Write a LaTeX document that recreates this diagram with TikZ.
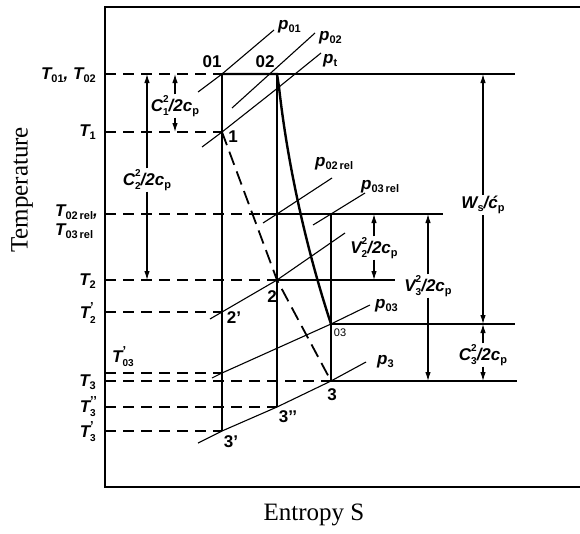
\documentclass[tikz,border=0pt]{standalone}
\usepackage{fontspec}
\setmainfont{Liberation Serif}
\newfontfamily\labfont{Liberation Sans}
\usetikzlibrary{arrows.meta}

\newcommand{\sub}[1]{\raisebox{-0.35ex}{\fontsize{11}{11}\selectfont\upshape #1}}
\newcommand{\subsup}[2]{\rlap{\raisebox{0.95ex}{\fontsize{10}{10}\selectfont\upshape #2}}\raisebox{-0.45ex}{\fontsize{10}{10}\selectfont\upshape #1}}
\newcommand{\subpr}[2]{\rlap{\raisebox{0.78ex}{\fontsize{13}{13}\selectfont\upshape #2}}\raisebox{-0.45ex}{\fontsize{10}{10}\selectfont\upshape #1}}

\tikzset{
  lab/.style={font=\labfont\fontsize{17}{19}\selectfont\bfseries\itshape, inner sep=1pt},
  ptlab/.style={font=\labfont\fontsize{17}{19}\selectfont\bfseries, inner sep=1pt},
  axlab/.style={font=\fontsize{25}{28}\selectfont},
  frame/.style={line width=1.6pt},
  thin/.style={line width=1.1pt},
  level/.style={line width=1.1pt, dash pattern=on 11pt off 7pt},
  proc/.style={line width=2.4pt},
  ideal/.style={line width=1.8pt, dash pattern=on 14pt off 7pt},
  dim/.style={line width=1.1pt, -{Latex[length=9pt,width=5.5pt]}}
}

\begin{document}
\begin{tikzpicture}[x=1pt, y=-1pt]
    \useasboundingbox (0,0) rectangle (580,533);

    % Frame and axis titles
    \draw[frame] (580,7) -| (105,487) -- (580,487);
    \node[axlab, rotate=90] (ylab) at (22,190) {Temperature};
    \node[axlab] (xlab) at (314,515) {Entropy S};

    % State points
    \coordinate (s01) at (222,74);
    \coordinate (s02) at (277,74);
    \coordinate (s1) at (222,132);
    \coordinate (st) at (279,87);
    \coordinate (r2) at (277,214);
    \coordinate (r3) at (331,214);
    \coordinate (s2) at (277,280);
    \coordinate (s2p) at (222,312);
    \coordinate (s03) at (331,324);
    \coordinate (s03p) at (222,373);
    \coordinate (s3) at (331,381);
    \coordinate (s3pp) at (277,407);
    \coordinate (s3p) at (222,431);

    % Level ends
    \coordinate (a01) at (105,74);
    \coordinate (a1) at (105,132);
    \coordinate (arel) at (105,214);
    \coordinate (mrel) at (262,214);
    \coordinate (erel) at (443,214);
    \coordinate (a2) at (105,280);
    \coordinate (e2) at (395,280);
    \coordinate (a2p) at (105,312);
    \coordinate (a03p) at (105,373);
    \coordinate (a3) at (105,381);
    \coordinate (a3pp) at (105,407);
    \coordinate (a3p) at (105,431);
    \coordinate (e01) at (515,74);
    \coordinate (e03) at (515,324);
    \coordinate (e3) at (517,381);

    % Temperature levels
    \draw[level] (a01) -- (s01);
    \draw[thin] (s02) -- (e01);
    \draw[level] (a1) -- (s1);
    \draw[level] (arel) -- (mrel);
    \draw[thin] (mrel) -- (erel);
    \draw[level] (a2) -- (s2);
    \draw[thin] (s2) -- (e2);
    \draw[level] (a2p) -- (s2p);
    \draw[level] (a03p) -- (s03p);
    \draw[thin] (s03) -- (e03);
    \draw[level] (a3) -- (s3);
    \draw[thin] (s3) -- (e3);
    \draw[level] (a3pp) -- (s3pp);
    \draw[level] (a3p) -- (s3p);

    % Verticals
    \draw[thin] (s01) -- (s3p);
    \draw[thin] (s02) -- (s3pp);
    \draw[thin] (r3) -- (s3);

    % Isobars
    \coordinate (p01a) at (198,92);   \coordinate (p01b) at (274,30);
    \coordinate (p02a) at (232,108);  \coordinate (p02b) at (315,33);
    \coordinate (pta) at (202,147);   \coordinate (ptb) at (321,53);
    \coordinate (prl2a) at (263,223); \coordinate (prl2b) at (332,178);
    \coordinate (prl3a) at (313,225); \coordinate (prl3b) at (365,193);
    \coordinate (p2a) at (210,319);   \coordinate (p2b) at (345,233);
    \coordinate (p03a) at (212,378);  \coordinate (p03b) at (370,305);
    \coordinate (p3a) at (198,443);   \coordinate (p3b) at (366,362);
    \draw[thin] (p01a) -- (s01) -- (p01b);
    \draw[thin] (p02a) -- (p02b);
    \draw[thin] (pta) -- (s1) -- (st) -- (ptb);
    \draw[thin] (prl2a) -- (r2) -- (prl2b);
    \draw[thin] (prl3a) -- (r3) -- (prl3b);
    \draw[thin] (p2a) -- (s2p) -- (s2) -- (p2b);
    \draw[thin] (p03a) -- (s03p) -- (s03) -- (p03b);
    \draw[thin] (p3a) -- (s3p) -- (s3pp) -- (s3) -- (p3b);
    \node[lab, anchor=west] (lp01) at (277,27) {p\sub{01}};
    \node[lab, anchor=west] (lp02) at (318,38) {p\sub{02}};
    \node[lab, anchor=west] (lpt) at (322,61) {p\sub{t}};
    \node[lab, anchor=west] (lprl2) at (314,164) {p\sub{02\,rel}};
    \node[lab, anchor=west] (lprl3) at (360,187) {p\sub{03\,rel}};
    \node[lab, anchor=west] (lp03) at (374,306) {p\sub{03}};
    \node[lab, anchor=west] (lp3) at (376,362) {p\sub{3}};

    % Processes
    \draw[proc] (s01) -- (s02) -- (st) .. controls (287,160) and (305,245) .. (s03);
    \draw[ideal] (s1) -- (s2) -- (s3);

    % Temperature labels
    \node[lab, anchor=east] (t01) at (97,75) {T\sub{01}, T\sub{02}};
    \node[lab, anchor=east] (t1) at (97,132) {T\sub{1}};
    \node[lab, anchor=east, align=left] (trel) at (99,222) {T\sub{02\,rel},\\T\sub{03\,rel}};
    \node[lab, anchor=east] (t2) at (97,281) {T\sub{2}};
    \node[lab, anchor=east] (t2p) at (97,313) {T\subpr{2}{’}};
    \node[lab] (t03p) at (123,357) {T\subpr{03}{’}};
    \node[lab, anchor=east] (t3) at (97,382) {T\sub{3}};
    \node[lab, anchor=east] (t3pp) at (97,407) {T\subpr{3}{’’}};
    \node[lab, anchor=east] (t3p) at (97,432) {T\subpr{3}{’}};

    % Point labels
    \node[ptlab] (l01) at (212,62) {01};
    \node[ptlab] (l02) at (265,62) {02};
    \node[ptlab] (l1) at (233,137) {1};
    \node[ptlab] (l2) at (272,297) {2};
    \node[ptlab] (l2p) at (234,318) {2’};
    \node[ptlab, font=\labfont\fontsize{11}{11}\selectfont] (l03) at (340,333) {03};
    \node[ptlab] (l3) at (332,395) {3};
    \node[ptlab] (l3pp) at (288,417) {3’’};
    \node[ptlab] (l3p) at (231,442) {3’};

    % Energy differences
    \node[lab] (c1) at (175,106) {C\subsup{1}{2}/2c\sub{p}};
    \node[lab] (c2) at (147,180) {C\subsup{2}{2}/2c\sub{p}};
    \node[lab] (v2) at (374,248) {V\subsup{2}{2}/2c\sub{p}};
    \node[lab] (v3) at (428,286) {V\subsup{3}{2}/2c\sub{p}};
    \node[lab] (w) at (483,205) {W\sub{s}/\'c\sub{p}};
    \node[lab] (c3) at (483,355) {C\subsup{3}{2}/2c\sub{p}};
    \draw[dim] (c1) -- (c1 |- s01);
    \draw[dim] (c1) -- (c1 |- s1);
    \draw[dim] (c2) -- (c2 |- s01);
    \draw[dim] (c2) -- (c2 |- s2);
    \draw[dim] (v2) -- (v2 |- r2);
    \draw[dim] (v2) -- (v2 |- s2);
    \draw[dim] (v3) -- (v3 |- r2);
    \draw[dim] (v3) -- (v3 |- s3);
    \draw[dim] (w) -- (w |- s01);
    \draw[dim] (w) -- (w |- s03);
    \draw[dim] (c3) -- (c3 |- s03);
    \draw[dim] (c3) -- (c3 |- s3);
\end{tikzpicture}
\end{document}
